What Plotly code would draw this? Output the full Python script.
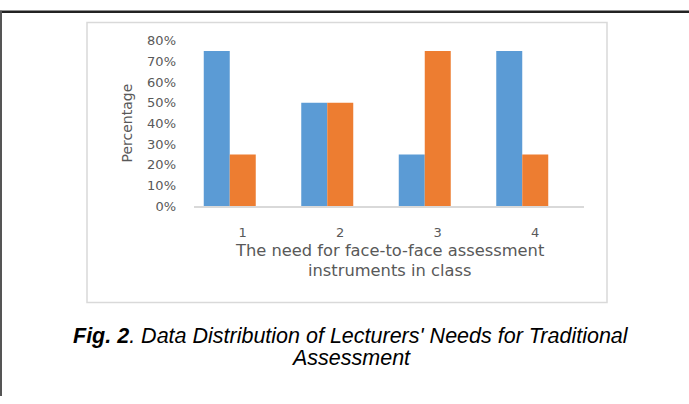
import plotly.graph_objects as go

categories = ["1", "2", "3", "4"]
series_a = [0.75, 0.50, 0.25, 0.75]
series_b = [0.25, 0.50, 0.75, 0.25]
y_ticks = [0, 0.1, 0.2, 0.3, 0.4, 0.5, 0.6, 0.7, 0.8]

W, H = 689, 404
def px(x):
    return x / W
def py(y):
    return 1 - y / H

AX_FONT = "DejaVu Sans"
GRAY = "#595959"
CAP_FONT = "Liberation Sans, Arial"

fig = go.Figure()
bw = 26 / 97.5
fig.add_trace(go.Bar(x=categories, y=series_a, marker_color="#5B9BD5",
                     marker_line_width=0, width=bw, offset=-0.4))
fig.add_trace(go.Bar(x=categories, y=series_b, marker_color="#ED7D31",
                     marker_line_width=0, width=bw, offset=-0.4 + bw))

fig.update_layout(
    width=W, height=H, margin=dict(l=0, r=0, t=0, b=0),
    paper_bgcolor="white", plot_bgcolor="white", showlegend=False,
    barmode="overlay",
    xaxis=dict(domain=[px(194), px(584)], type="category",
               showline=True, linecolor="#D9D9D9", linewidth=1.5,
               showgrid=False, zeroline=False, ticks="",
               ticklabelstandoff=13,
               tickfont=dict(family=AX_FONT, size=13, color=GRAY)),
    yaxis=dict(domain=[py(207), py(35)], range=[0, 0.8],
               tickvals=y_ticks, tickformat=".0%",
               showgrid=False, zeroline=False, showline=False, ticks="",
               ticklabelstandoff=17,
               tickfont=dict(family=AX_FONT, size=13, color=GRAY)),
)

shapes = [
    dict(type="line", xref="paper", yref="paper", x0=0, x1=1, y0=py(5), y1=py(5),
         line=dict(color="#222222", width=2.5)),
    dict(type="line", xref="paper", yref="paper", x0=px(1), x1=px(1), y0=py(4), y1=0,
         line=dict(color="#555555", width=2)),
    dict(type="rect", xref="paper", yref="paper", x0=px(87), x1=px(607), y0=py(307), y1=py(16),
         line=dict(color="#D9D9D9", width=1.5)),
]
fig.update_layout(shapes=shapes)

def note(x, y, text, font, angle=0):
    fig.add_annotation(xref="paper", yref="paper", x=px(x), y=py(y), text=text,
                       textangle=angle, showarrow=False, xanchor="center",
                       yanchor="middle", font=font)

note(127, 121, "Percentage", dict(family=AX_FONT, size=14, color=GRAY), angle=-90)
note(389, 253, "The need for face-to-face assessment", dict(family=AX_FONT, size=16.3, color=GRAY))
note(389, 274, "instruments in class", dict(family=AX_FONT, size=16.3, color=GRAY))
note(351, 342, "<b><i>Fig. 2</i></b><i>. Data Distribution of Lecturers' Needs for Traditional</i>",
     dict(family=CAP_FONT, size=21.5, color="black"))
note(351, 365, "<i>Assessment</i>", dict(family=CAP_FONT, size=21.5, color="black"))

fig.write_html("out.html", config={"displayModeBar": False},
               post_script="document.body.style.margin='0px';")
